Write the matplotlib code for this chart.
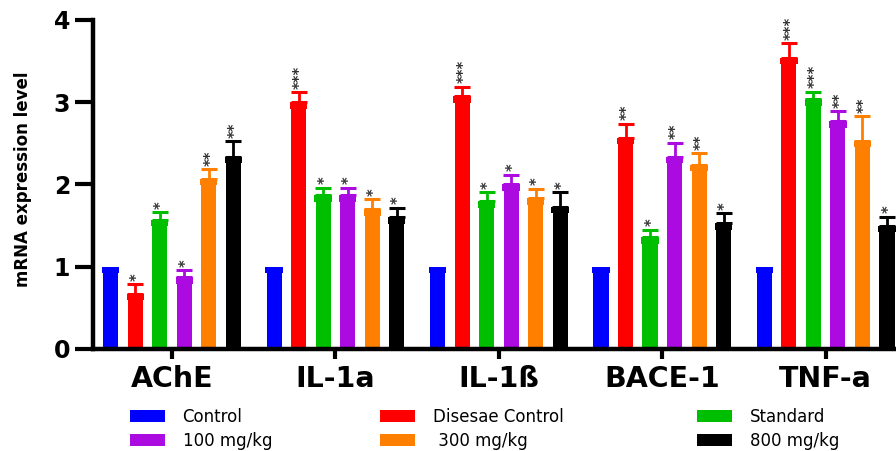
import numpy as np
import matplotlib.pyplot as plt

plt.rcParams['font.family'] = ['DejaVu Sans']

genes = ["AChE", "IL-1a", "IL-1ß", "BACE-1", "TNF-a"]
groups = ["Control", "Disesae Control", "Standard", "100 mg/kg", " 300 mg/kg", "800 mg/kg"]
colors = ["#0000ff", "#ff0000", "#00be00", "#ab0ae0", "#ff8000", "#000000"]

# mean values per group, one entry per gene
control = [1.0, 1.0, 1.0, 1.0, 1.0]
disease = [0.67, 3.00, 3.07, 2.57, 3.54]
standard = [1.57, 1.87, 1.80, 1.36, 3.04]
dose100 = [0.87, 1.87, 2.00, 2.34, 2.77]
dose300 = [2.07, 1.70, 1.83, 2.24, 2.53]
dose800 = [2.34, 1.60, 1.73, 1.53, 1.50]

# upper error (SEM)
err_control = [0, 0, 0, 0, 0]
err_disease = [0.12, 0.12, 0.12, 0.17, 0.18]
err_standard = [0.09, 0.09, 0.11, 0.09, 0.09]
err_100 = [0.09, 0.09, 0.12, 0.17, 0.12]
err_300 = [0.12, 0.12, 0.12, 0.14, 0.30]
err_800 = [0.19, 0.12, 0.18, 0.12, 0.11]

# significance marks
sig_control = ["", "", "", "", ""]
sig_disease = ["*", "***", "***", "**", "***"]
sig_standard = ["*", "*", "*", "*", "***"]
sig_100 = ["*", "*", "*", "**", "**"]
sig_300 = ["**", "*", "*", "**", "**"]
sig_800 = ["**", "*", "*", "*", "*"]

values = [control, disease, standard, dose100, dose300, dose800]
errors = [err_control, err_disease, err_standard, err_100, err_300, err_800]
sigs = [sig_control, sig_disease, sig_standard, sig_100, sig_300, sig_800]

fig = plt.figure(figsize=(8.96, 4.51), dpi=100)
ax = fig.add_axes([0.1038, 0.2262, 0.8962, 0.7295])

x = np.arange(len(genes))
step = 0.15
width = 0.092
handles = []
for i, (vals, errs, sg, col) in enumerate(zip(values, errors, sigs, colors)):
    pos = x + (i - 2.5) * step
    vals = np.array(vals)
    errs = np.array(errs)
    h = ax.bar(pos, vals, width=width, color=col, zorder=2)
    # slightly wider cap at the top of each bar
    ax.bar(pos, 0.08, bottom=vals - 0.08, width=width * 1.15, color=col, zorder=2)
    handles.append(h)
    has_err = errs > 0
    if has_err.any():
        ax.errorbar(pos[has_err], vals[has_err], yerr=[np.zeros(has_err.sum()), errs[has_err]],
                    fmt="none", ecolor=col, elinewidth=2, capsize=6, capthick=2.2, zorder=1)
    for p, v, e, s in zip(pos, vals, errs, sg):
        if s:
            ax.text(p + 0.012, v + e + 0.04, s, rotation=90, ha="center", va="bottom",
                    fontsize=10.5, fontweight="bold", color="#333333")

ax.set_xlim(-0.483, 4.43)
ax.set_ylim(0, 4)
ax.set_yticks([0, 1, 2, 3, 4])
ax.set_xticks(x)
ax.set_xticklabels(genes, fontsize=20.5, fontweight="bold")
for lab in ax.get_yticklabels():
    lab.set_fontsize(17)
    lab.set_fontweight("bold")
ax.tick_params(axis="y", width=3, length=13, pad=3.5)
ax.tick_params(axis="x", width=3, length=7.5, pad=4)
ax.spines["top"].set_visible(False)
ax.spines["right"].set_visible(False)
ax.spines["left"].set_linewidth(3.2)
ax.spines["bottom"].set_linewidth(3.2)
ax.set_ylabel("mRNA expression level", fontsize=12, fontweight="bold")
ax.yaxis.set_label_coords(-0.076, 0.515)

# legend: three columns, two rows
col_x = [130, 380, 697]
for c in range(3):
    leg = fig.legend([handles[c], handles[c + 3]], [groups[c], groups[c + 3]],
                     loc="upper left", bbox_to_anchor=(col_x[c] / 896, 1 - 408 / 451),
                     frameon=False, fontsize=12, handlelength=2.1, handleheight=0.75,
                     labelspacing=0.36, handletextpad=1.05, borderpad=0, borderaxespad=0)

fig.savefig("out.png", dpi=100)
